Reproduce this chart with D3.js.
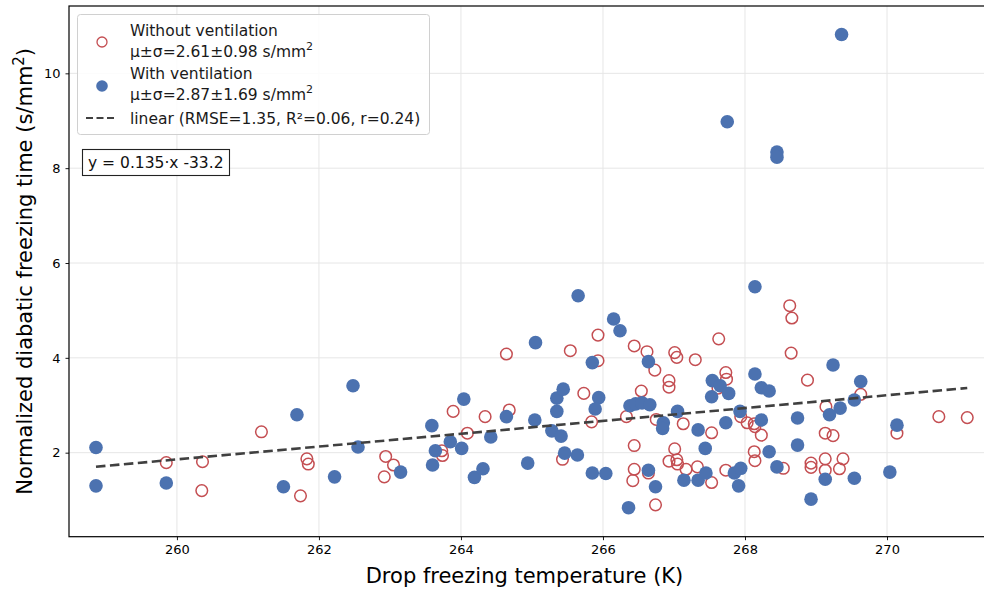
<!DOCTYPE html>
<html>
<head>
<meta charset="utf-8">
<script src="https://cdn.jsdelivr.net/npm/d3@7"></script>
<style>
  body { margin: 0; background: #fff; }
  svg { display: block; font-family: "DejaVu Sans", sans-serif; }
</style>
</head>
<body>
<script>
// Without ventilation (open red circles)
var withoutT = [259.85, 260.36, 260.35, 261.19, 261.74, 261.83, 261.85, 262.94, 263.05, 262.92,
  263.73, 263.74, 263.89, 264.09, 264.34, 264.64, 264.68, 265.43, 265.54, 265.73,
  265.93, 265.93, 265.84, 266.44, 266.62, 266.54, 266.33, 266.44, 266.44, 266.42,
  266.73, 266.75, 267.01, 267.04, 267.30, 267.63, 266.93, 266.93, 267.13, 267.53,
  267.01, 266.93, 267.04, 267.05, 266.64, 266.74, 267.17, 267.33, 267.53, 267.73,
  267.73, 267.74, 267.62, 267.94, 268.03, 268.13, 268.14, 268.23, 268.13, 268.14,
  268.54, 268.63, 268.66, 268.65, 268.88, 268.93, 268.93, 269.63, 269.14, 269.13,
  269.24, 269.13, 269.13, 269.38, 269.33, 270.14, 270.73, 271.13];
var withoutY = [1.79, 1.81, 1.20, 2.44, 1.09, 1.87, 1.76, 1.92, 1.74, 1.49,
  2.04, 1.94, 2.87, 2.41, 2.76, 4.08, 2.90, 1.86, 4.15, 3.25,
  3.94, 4.48, 2.65, 4.25, 4.13, 3.30, 2.76, 2.15, 1.65, 1.41,
  3.74, 2.70, 4.11, 4.01, 3.96, 4.40, 3.52, 3.38, 2.61, 2.42,
  2.08, 1.82, 1.85, 1.76, 1.57, 0.90, 1.65, 1.70, 1.37, 1.63,
  3.69, 3.55, 3.36, 2.76, 2.63, 2.61, 2.55, 2.37, 2.02, 1.83,
  1.67, 5.10, 4.84, 4.10, 3.53, 1.78, 1.69, 3.23, 2.97, 2.41,
  2.36, 1.87, 1.63, 1.87, 1.66, 2.41, 2.76, 2.74];

// With ventilation (filled blue dots)
var withT = [258.86, 258.86, 259.85, 261.50, 261.69, 262.22, 262.48, 262.55, 263.15, 263.59,
  263.60, 263.64, 263.85, 264.04, 264.01, 264.19, 264.31, 264.42, 264.64, 264.94,
  265.05, 265.04, 265.28, 265.35, 265.35, 265.44, 265.41, 265.46, 265.64, 265.65,
  265.85, 265.94, 265.89, 265.85, 266.04, 266.15, 266.24, 266.64, 266.38, 266.46,
  266.55, 266.66, 266.36, 266.64, 266.85, 266.84, 267.05, 267.34, 267.44, 266.74,
  267.14, 267.34, 267.45, 267.85, 267.94, 267.91, 267.54, 267.65, 267.77, 267.53,
  267.73, 267.93, 268.14, 268.23, 268.34, 268.23, 268.34, 268.45, 268.74, 268.74,
  268.93, 269.24, 269.63, 269.54, 269.34, 269.19, 269.13, 269.54, 270.04, 270.14,
  267.75, 268.45, 268.45, 269.36, 268.14];
var withY = [2.11, 1.30, 1.36, 1.28, 2.80, 1.49, 3.41, 2.12, 1.59, 2.57,
  1.74, 2.04, 2.23, 3.13, 2.09, 1.48, 1.66, 2.33, 2.76, 1.78,
  4.32, 2.69, 2.46, 3.15, 2.87, 3.34, 2.35, 1.99, 1.95, 5.31,
  3.90, 3.16, 2.92, 1.57, 1.56, 4.82, 4.57, 3.92, 2.99, 3.03,
  3.05, 3.01, 0.84, 1.63, 2.63, 2.51, 2.87, 2.48, 2.09, 1.28,
  1.42, 1.42, 1.57, 1.57, 1.67, 1.30, 3.52, 3.41, 3.25, 3.18,
  2.63, 2.87, 3.66, 3.37, 3.30, 2.69, 2.02, 1.70, 2.73, 2.16,
  1.02, 3.85, 3.50, 3.11, 2.94, 2.80, 1.44, 1.46, 1.59, 2.58,
  8.98, 8.34, 8.23, 10.82, 5.50];

// linear fit
var fitSlope = 0.1353,
    fitIntercept = -33.32;

var xTicks = [260, 262, 264, 266, 268, 270];
var yTicks = [2, 4, 6, 8, 10];

var legendLabels = [
  ["Without ventilation", "μ±σ=2.61±0.98 s/mm"],
  ["With ventilation", "μ±σ=2.87±1.69 s/mm"],
  ["linear (RMSE=1.35, R²=0.06, r=0.24)"]
];
var eqText = "y = 0.135·x -33.2";

var width = 984,
    height = 590;

// bords de la zone de trace
var pLeft = 69, pTop = 6, pRight = 985, pBottom = 536.7;

var red = "#c44e52",
    blue = "#4c72b0";

var svg = d3.select("body")
    .append("svg")
    .attr("width", width)
    .attr("height", height);

var x = d3.scaleLinear().domain([258.48, 271.38]).range([pLeft, pRight]);
var y = d3.scaleLinear().domain([0.228, 11.42]).range([pBottom, pTop]);

// grille
svg.append("g")
    .selectAll("line")
    .data(xTicks)
    .join("line")
    .attr("x1", d => x(d)).attr("x2", d => x(d))
    .attr("y1", pTop).attr("y2", pBottom)
    .attr("stroke", "#e6e6e6").attr("stroke-width", 1);
svg.append("g")
    .selectAll("line")
    .data(yTicks)
    .join("line")
    .attr("x1", pLeft).attr("x2", pRight)
    .attr("y1", d => y(d)).attr("y2", d => y(d))
    .attr("stroke", "#e6e6e6").attr("stroke-width", 1);

// axes
var xAxis = svg.append("g")
    .attr("transform", "translate(0," + pBottom + ")")
    .call(d3.axisBottom(x).tickValues(xTicks).tickSize(3.5).tickPadding(5));
var yAxis = svg.append("g")
    .attr("transform", "translate(" + pLeft + ",0)")
    .call(d3.axisLeft(y).tickValues(yTicks).tickSize(3.5).tickPadding(5));
[xAxis, yAxis].forEach(function (a) {
    a.select(".domain").remove();
    a.selectAll("text").attr("font-size", "13px").attr("font-family", "DejaVu Sans").attr("fill", "#000");
    a.selectAll("line").attr("stroke", "#000").attr("stroke-width", 0.9);
});

// cadre
svg.append("rect")
    .attr("x", pLeft).attr("y", pTop)
    .attr("width", pRight - pLeft).attr("height", pBottom - pTop)
    .attr("fill", "none").attr("stroke", "#000").attr("stroke-width", 1.2);

// points
var withoutData = withoutT.map((t, i) => [t, withoutY[i]]);
var withData = withT.map((t, i) => [t, withY[i]]);

svg.append("g")
    .selectAll("circle")
    .data(withoutData)
    .join("circle")
    .attr("cx", d => x(d[0]))
    .attr("cy", d => y(d[1]))
    .attr("r", 5.8)
    .attr("fill", "none")
    .attr("stroke", red)
    .attr("stroke-width", 1.5);

svg.append("g")
    .selectAll("circle")
    .data(withData)
    .join("circle")
    .attr("cx", d => x(d[0]))
    .attr("cy", d => y(d[1]))
    .attr("r", 6.8)
    .attr("fill", blue);

// droite de regression
var allT = withoutT.concat(withT);
var tExt = d3.extent(allT);
svg.append("line")
    .attr("x1", x(tExt[0])).attr("y1", y(fitSlope * tExt[0] + fitIntercept))
    .attr("x2", x(tExt[1])).attr("y2", y(fitSlope * tExt[1] + fitIntercept))
    .attr("stroke", "#404040")
    .attr("stroke-width", 2.6)
    .attr("stroke-dasharray", "9.5,4.5");

// legende
var lg = svg.append("g");
lg.append("rect")
    .attr("x", 77.5).attr("y", 14.5)
    .attr("width", 352).attr("height", 120)
    .attr("rx", 3)
    .attr("fill", "#fff").attr("fill-opacity", 0.85)
    .attr("stroke", "#d0d0d0");

lg.append("circle").attr("cx", 102).attr("cy", 42).attr("r", 5).attr("fill", "none").attr("stroke", red).attr("stroke-width", 1.3);
lg.append("circle").attr("cx", 102).attr("cy", 86).attr("r", 5.8).attr("fill", blue);
lg.append("line").attr("x1", 86).attr("x2", 117).attr("y1", 118).attr("y2", 118)
    .attr("stroke", "#404040").attr("stroke-width", 2).attr("stroke-dasharray", "7,3.5");

var textY = [[36, 57], [79, 100], [124]];
legendLabels.forEach(function (lines, i) {
    lines.forEach(function (s, j) {
        var t = lg.append("text")
            .attr("x", 130).attr("y", textY[i][j])
            .attr("font-size", "15.5px")
            .attr("fill", "#1a1a1a")
            .text(s);
        if (j == 1) {
            t.append("tspan").attr("dy", -7).attr("font-size", "11px").text("2");
        }
    });
});

// equation
svg.append("rect")
    .attr("x", 82.5).attr("y", 149.5)
    .attr("width", 147).attr("height", 26)
    .attr("fill", "#fff").attr("stroke", "#222").attr("stroke-width", 1.1);
svg.append("text")
    .attr("x", 88).attr("y", 168)
    .attr("font-size", "15.5px")
    .attr("fill", "#111")
    .text(eqText);

// titres des axes
svg.append("text")
    .attr("x", (pLeft + 984) / 2 - 2).attr("y", 583)
    .attr("text-anchor", "middle")
    .attr("font-size", "21px")
    .text("Drop freezing temperature (K)");

var yl = svg.append("text")
    .attr("transform", "translate(32," + ((pTop + pBottom) / 2) + ") rotate(-90)")
    .attr("text-anchor", "middle")
    .attr("font-size", "21px")
    .text("Normalized diabatic freezing time (s/mm");
yl.append("tspan").attr("dy", -8).attr("font-size", "15px").text("2");
yl.append("tspan").attr("dy", 8).text(")");
</script>
</body>
</html>
